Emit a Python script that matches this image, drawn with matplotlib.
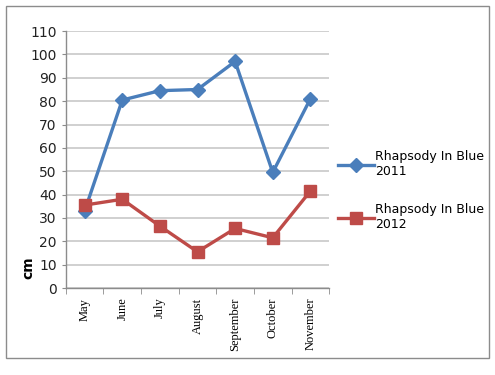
import matplotlib.pyplot as plt
from matplotlib.patches import Rectangle
from matplotlib.ticker import FixedLocator, NullFormatter

months = ['May', 'June', 'July', 'August', 'September', 'October', 'November']
rhapsody_2011 = [33, 80.5, 84.5, 85, 97, 49.5, 81]
rhapsody_2012 = [35.5, 38, 26.5, 15.5, 25.5, 21.5, 41.5]
yticks = list(range(0, 111, 10))

fig = plt.figure(figsize=(4.95, 3.75), dpi=100)
fig.patch.set_facecolor('white')
fig.patches.append(Rectangle((0.012, 0.045), 0.976, 0.94, transform=fig.transFigure,
                             fill=False, edgecolor='#8c8c8c', linewidth=1.0))

ax = fig.add_axes([0.133, 0.232, 0.532, 0.685])
x = list(range(len(months)))
ax.plot(x, rhapsody_2011, color='#4a7ebb', linewidth=2.4, marker='D', markersize=7,
        label='Rhapsody In Blue\n2011')
ax.plot(x, rhapsody_2012, color='#be4b48', linewidth=2.4, marker='s', markersize=8.5,
        label='Rhapsody In Blue\n2012')

ax.set_xlim(-0.5, len(months) - 0.5)
ax.set_ylim(0, 110)
ax.set_yticks(yticks)
ax.tick_params(axis='y', labelsize=10, length=3, color='#8c8c8c', colors='#222222')
ax.yaxis.grid(True, color='#c8c8c8', linewidth=1.2)
ax.set_axisbelow(True)

# category labels centred, tick marks on the boundaries
ax.set_xticks(x)
ax.set_xticklabels(months, rotation=90, fontsize=9, family='Liberation Serif')
ax.tick_params(axis='x', length=0, pad=7)
ax.xaxis.set_minor_locator(FixedLocator([i - 0.5 for i in range(len(months) + 1)]))
ax.xaxis.set_minor_formatter(NullFormatter())
ax.tick_params(axis='x', which='minor', length=4, color='#8c8c8c')

for side in ['top', 'right']:
    ax.spines[side].set_visible(False)
for side in ['left', 'bottom']:
    ax.spines[side].set_color('#8c8c8c')
    ax.spines[side].set_linewidth(1.0)

ax.set_ylabel('cm', fontsize=10, fontweight='bold')
ax.yaxis.set_label_coords(-0.115, 0.08)

ax.legend(loc='center left', bbox_to_anchor=(0.99, 0.38), frameon=False, fontsize=9,
          handlelength=2.9, handletextpad=0.1, labelspacing=2.0)

fig.savefig('out.png', dpi=100)
